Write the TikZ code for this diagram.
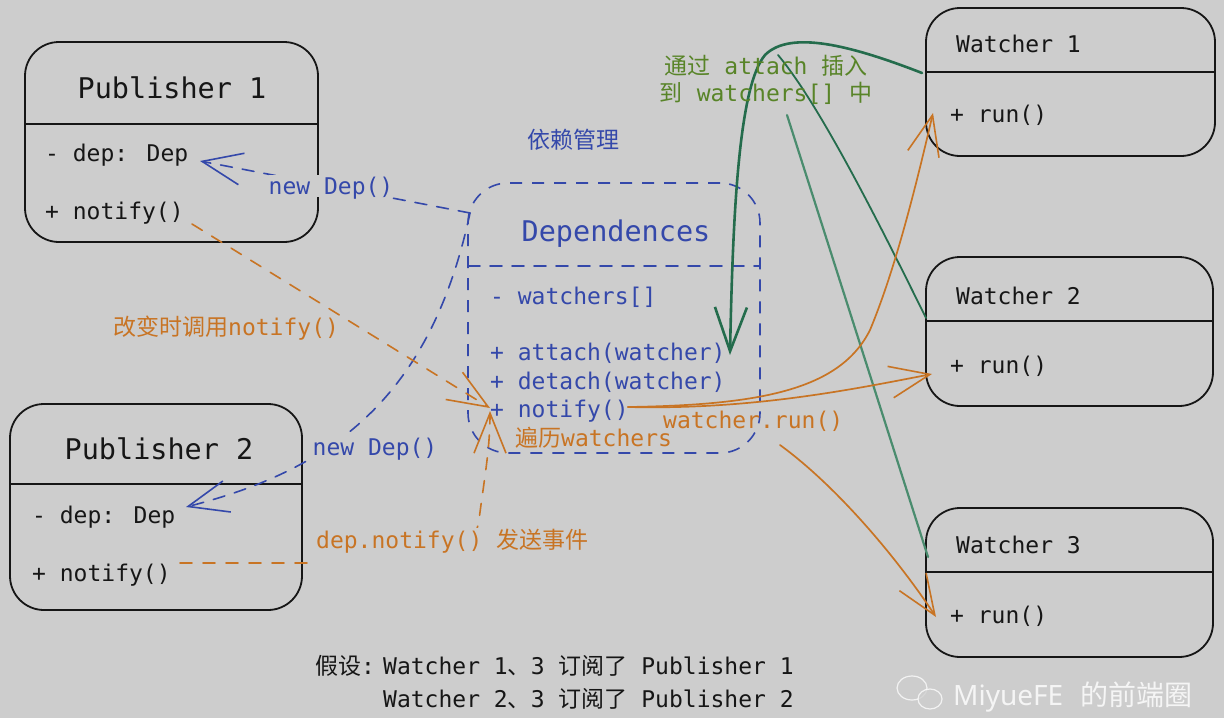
\documentclass[tikz,border=0pt]{standalone}
\usepackage{fontspec}
\setmainfont{DejaVu Sans Mono}
\newfontfamily\cjk{Noto Sans CJK SC}
\newfontfamily\wmfont{Noto Sans}
\usetikzlibrary{arrows.meta}
\definecolor{bg}{RGB}{205,205,205}
\definecolor{ink}{RGB}{22,22,22}
\definecolor{ublue}{RGB}{52,72,170}
\definecolor{uorange}{RGB}{200,116,36}
\definecolor{ugreen}{RGB}{36,108,76}
\definecolor{lgreen}{RGB}{74,140,110}
\definecolor{tgreen}{RGB}{88,132,40}
\tikzset{
  box/.style={draw=ink, line width=1.8pt, rounded corners=34pt, inner sep=0pt, outer sep=0pt},
  dbox/.style={draw=ublue, line width=1.6pt, rounded corners=40pt, dash pattern=on 12pt off 10pt, inner sep=0pt, outer sep=0pt},
  divider/.style={draw=ink, line width=1.8pt},
  lbl/.style={font=\fontsize{23}{27}\selectfont, inner sep=0pt, anchor=west, text height=19pt, text depth=3pt},
  clbl/.style={lbl, anchor=center},
  ttl/.style={font=\fontsize{28.5}{32}\selectfont, inner sep=0pt},
  barb/.style={-{Straight Barb[length=40pt,width=32pt,line width=1.6pt]}},
  bdash/.style={draw=ublue, line width=1.6pt, dash pattern=on 12pt off 10pt, line cap=round},
  odash/.style={draw=uorange, line width=1.6pt, dash pattern=on 12pt off 11pt, line cap=round},
  oline/.style={draw=uorange, line width=1.7pt, line cap=round},
  gline/.style={draw=ugreen, line width=2.6pt, line cap=round},
  glight/.style={draw=lgreen, line width=2.2pt, line cap=round},
  cover/.style={fill=bg},
}
\begin{document}
\begin{tikzpicture}[x=1pt,y=-1pt]
\useasboundingbox (0,0) rectangle (1224,718);
\fill[bg] (0,0) rectangle (1224,718);

% ---------- boxes ----------
\node[box, minimum width=293pt, minimum height=200pt] (p1) at (171.5,142) {};
\draw[divider] (25,124) -- (318,124);
\node[box, minimum width=292pt, minimum height=206pt] (p2) at (156,507) {};
\draw[divider] (10,484) -- (302,484);
\node[box, minimum width=289pt, minimum height=148pt] (w1) at (1070.5,82) {};
\draw[divider] (926,72) -- (1215,72);
\node[box, minimum width=287pt, minimum height=149pt] (w2) at (1069.5,331.5) {};
\draw[divider] (926,321) -- (1213,321);
\node[box, minimum width=287pt, minimum height=149pt] (w3) at (1069.5,582.5) {};
\draw[divider] (926,572) -- (1213,572);
\node[dbox, minimum width=292pt, minimum height=270pt] (dep) at (614,318) {};
\draw[bdash] (468,266) -- (760,266);

% ---------- texts in boxes ----------
\node[ttl, text=ink] (p1t) at (172,88) {Publisher 1};
\node[lbl, text=ink] (p1dep) at (45,153) {- dep: Dep};
\node[lbl, text=ink] (p1not) at (45,211) {+ notify()};
\node[ttl, text=ink] (p2t) at (159,449) {Publisher 2};
\node[lbl, text=ink] (p2dep) at (32,515) {- dep: Dep};
\node[lbl, text=ink] (p2not) at (32,573) {+ notify()};
\node[lbl, text=ink] (w1t) at (956,44) {Watcher 1};
\node[lbl, text=ink] (w1r) at (950,114) {+ run()};
\node[lbl, text=ink] (w2t) at (956,296) {Watcher 2};
\node[lbl, text=ink] (w2r) at (950,365) {+ run()};
\node[lbl, text=ink] (w3t) at (956,545) {Watcher 3};
\node[lbl, text=ink] (w3r) at (950,615) {+ run()};
\node[ttl, text=ublue] (dept) at (616,234) {Dependences};
\node[lbl, text=ublue] (dw) at (490,296) {- watchers[]};
\node[lbl, text=ublue] (da) at (490,352) {+ attach(watcher)};
\node[lbl, text=ublue] (dd) at (490,381) {+ detach(watcher)};
\node[lbl, text=ublue] (dn) at (490,409) {+ notify()};
\node[clbl, text=ublue] (deplabel) at (573,140) {\cjk 依赖管理};

% ---------- connector end points ----------
\coordinate (dc) at (470,213);
\coordinate (p1tip) at (200,161);
\coordinate (p2tip) at (186,507);
\coordinate (ntip1) at (490,408);
\coordinate (ntip2) at (490,411);
\coordinate (gstart) at (922,73);
\coordinate (gtip) at (730,355);
\coordinate (g2start) at (926,318);
\coordinate (g2end) at (778,55);
\coordinate (g3start) at (787,115);
\coordinate (g3end) at (928,557);
\coordinate (ostart) at (628,407);
\coordinate (w1tip) at (933,113);
\coordinate (w2tip) at (932,374);
\coordinate (o3start) at (780,445);
\coordinate (w3tip) at (936,617);
\coordinate (p1o) at (192,224);
\coordinate (p2o) at (180,563);

% ---------- blue: new Dep() ----------
\draw[bdash, barb] (dc) -- (p1tip);
\node[clbl, text=ublue, cover] (nd1) at (331,186) {new Dep()};
\draw[bdash, barb] (dc) .. controls (430,400) and (330,470) .. (p2tip);
\node[clbl, text=ublue, cover] (nd2) at (375,447) {new Dep()};

% ---------- orange dashed: notify ----------
\draw[odash, barb] (p1o) -- (ntip1);
\node[lbl, text=uorange] (chg) at (113,327) {{\cjk 改变时调用}notify()};
\draw[odash, barb] (p2o) -- (330,563) .. controls (440,563) and (474,555) .. (479,520) .. controls (484,480) and (490,450) .. (ntip2);
\node[lbl, text=uorange, cover, inner xsep=2pt, inner ysep=1.5pt, text depth=16pt] (dnl) at (314,546.5) {dep.notify() {\cjk 发送事件}};
\node[lbl, text=uorange] (trav) at (515,438) {{\cjk 遍历}watchers};

% ---------- green: attach ----------
\draw[glight] (g3start) -- (g3end);
\draw[gline, line width=1.8pt] (g2start) .. controls (880,225) and (820,105) .. (g2end);
\draw[gline, -{Straight Barb[length=44pt,width=32pt,line width=2.6pt]}] (gstart) .. controls (850,45) and (790,30) .. (765,55) .. controls (740,85) and (733,200) .. (gtip);
\node[clbl, text=tgreen] (att1) at (766,66) {{\cjk 通过} attach {\cjk 插入}};
\node[clbl, text=tgreen] (att2) at (766,93) {{\cjk 到} watchers[] {\cjk 中}};

% ---------- orange solid: watcher.run() ----------
\draw[oline, barb] (ostart) .. controls (760,405) and (840,390) .. (870,330) .. controls (895,270) and (915,190) .. (w1tip);
\draw[oline, barb] (ostart) .. controls (750,410) and (850,390) .. (w2tip);
\draw[oline, barb] (o3start) .. controls (835,485) and (895,555) .. (w3tip);
\node[lbl, text=uorange] (wrun) at (663,420) {watcher.run()};

% ---------- note ----------
\node[lbl, text=ink] (note0) at (315,666) {{\cjk 假设}:};
\node[lbl, text=ink] (note1) at (383,666) {Watcher 1{\cjk 、}3 {\cjk 订阅了} Publisher 1};
\node[lbl, text=ink] (note2) at (383,699) {Watcher 2{\cjk 、}3 {\cjk 订阅了} Publisher 2};

% ---------- watermark ----------
\draw[white, opacity=0.75, line width=1.2pt] (912,688) ellipse (15pt and 12pt);
\draw[white, opacity=0.75, line width=1.2pt, fill=bg] (930,699) ellipse (12pt and 10pt);
\node[inner sep=0pt, anchor=west, text=white, opacity=0.8, font=\fontsize{28}{32}\selectfont] (wm) at (953,697) {{\wmfont MiyueFE} {\cjk 的前端圈}};
\end{tikzpicture}
\end{document}
